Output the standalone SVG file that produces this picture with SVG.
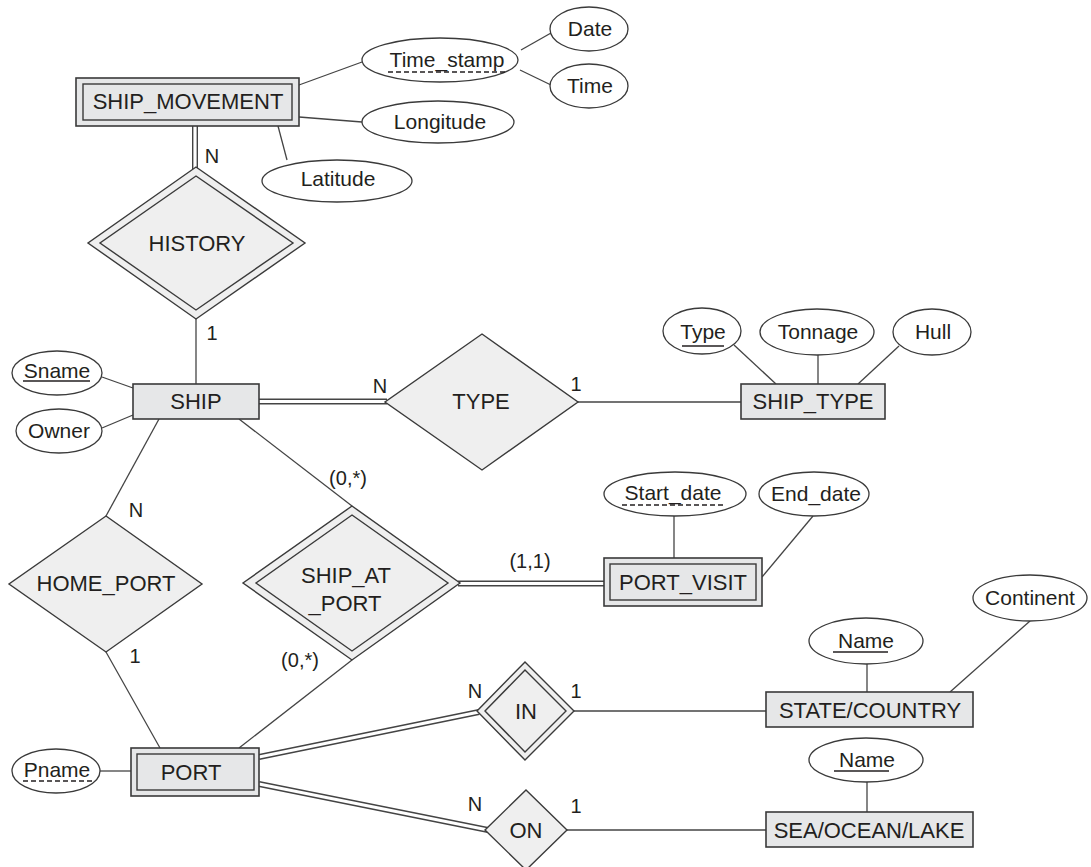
<svg xmlns="http://www.w3.org/2000/svg" width="1091" height="867" viewBox="0 0 1091 867">
<style>
text{font-family:"Liberation Sans",Arial,sans-serif;fill:#231f20;text-anchor:middle}
.nl{font-size:22px}
.al{font-size:21px}
.cl{font-size:20px}
.ent{fill:#e6e7e8;stroke:#3a3a3a;stroke-width:1.6}
.inner{fill:#e6e7e8;stroke:#3a3a3a;stroke-width:1.4}
.rel{fill:#efefef;stroke:#3a3a3a;stroke-width:1.4}
.att{fill:#fff;stroke:#3a3a3a;stroke-width:1.3}
.ln{stroke:#444;stroke-width:1.3;fill:none}
.dbl{stroke:#444;stroke-width:6;fill:none}
.dblw{stroke:#fff;stroke-width:3.2;fill:none}
.ul{stroke:#231f20;stroke-width:1.3}
.dul{stroke:#231f20;stroke-width:1.3;stroke-dasharray:5 3}
</style>
<rect width="1091" height="867" fill="#fff"/>
<g id="connectors">
<line class="ln" x1="299" y1="85" x2="362" y2="62"/>
<line class="ln" x1="521" y1="50" x2="551" y2="33"/>
<line class="ln" x1="520" y1="70" x2="551" y2="85"/>
<line class="ln" x1="299" y1="117" x2="362" y2="122"/>
<line class="ln" x1="278" y1="126" x2="287" y2="160"/>
<line class="dbl" x1="195" y1="126" x2="195" y2="170"/>
<line class="dblw" x1="195" y1="126" x2="195" y2="170"/>
<line class="ln" x1="196" y1="319" x2="196" y2="384"/>
<line class="ln" x1="102" y1="377" x2="133" y2="388"/>
<line class="ln" x1="102" y1="428" x2="133" y2="415"/>
<line class="dbl" x1="259" y1="401.5" x2="387" y2="401.5"/>
<line class="dblw" x1="259" y1="401.5" x2="387" y2="401.5"/>
<line class="ln" x1="578" y1="402" x2="741" y2="402"/>
<line class="ln" x1="734" y1="345" x2="776" y2="384"/>
<line class="ln" x1="818" y1="355" x2="818" y2="384"/>
<line class="ln" x1="899" y1="346" x2="858" y2="384"/>
<line class="ln" x1="159" y1="419" x2="106" y2="516"/>
<line class="ln" x1="239" y1="419" x2="352" y2="506"/>
<line class="ln" x1="106" y1="652" x2="160" y2="748"/>
<line class="ln" x1="352" y1="660" x2="239" y2="748"/>
<line class="dbl" x1="458" y1="583.5" x2="604" y2="583.5"/>
<line class="dblw" x1="458" y1="583.5" x2="604" y2="583.5"/>
<line class="ln" x1="674" y1="516" x2="674" y2="558"/>
<line class="ln" x1="813" y1="516" x2="762" y2="577"/>
<line class="dbl" x1="259" y1="757" x2="479" y2="712"/>
<line class="dblw" x1="259" y1="757" x2="479" y2="712"/>
<line class="ln" x1="574" y1="711" x2="766" y2="711"/>
<line class="ln" x1="867" y1="664" x2="867" y2="692"/>
<line class="ln" x1="1030" y1="621" x2="950" y2="692"/>
<line class="dbl" x1="259" y1="784" x2="488" y2="830"/>
<line class="dblw" x1="259" y1="784" x2="488" y2="830"/>
<line class="ln" x1="567" y1="830" x2="766" y2="830"/>
<line class="ln" x1="867" y1="782" x2="867" y2="812"/>
<line class="ln" x1="100" y1="771" x2="131" y2="771"/>
</g>
<g id="labels">
<text class="cl" x="212" y="163">N</text>
<text class="cl" x="212" y="340">1</text>
<text class="cl" x="380" y="393">N</text>
<text class="cl" x="576" y="391">1</text>
<text class="cl" x="136" y="517">N</text>
<text class="cl" x="348" y="485">(0,*)</text>
<text class="cl" x="135" y="663">1</text>
<text class="cl" x="300" y="667">(0,*)</text>
<text class="cl" x="530" y="568">(1,1)</text>
<text class="cl" x="475" y="698">N</text>
<text class="cl" x="576" y="698">1</text>
<text class="cl" x="475" y="811">N</text>
<text class="cl" x="576" y="813">1</text>
</g>
<g id="ship_movement">
<rect class="ent" x="76" y="78" width="223" height="48"/>
<rect class="inner" x="83" y="84" width="209" height="36"/>
<text class="nl" x="188" y="109">SHIP_MOVEMENT</text>
</g>
<g id="time_stamp">
<ellipse class="att" cx="440" cy="60" rx="78" ry="22"/>
<text class="al" x="447" y="67">Time_stamp</text>
<line class="dul" x1="388" y1="72" x2="505" y2="72"/>
</g>
<g id="date">
<ellipse class="att" cx="589" cy="29" rx="39" ry="22"/>
<text class="al" x="590" y="36">Date</text>
</g>
<g id="time">
<ellipse class="att" cx="589" cy="86" rx="39" ry="22"/>
<text class="al" x="590" y="93">Time</text>
</g>
<g id="longitude">
<ellipse class="att" cx="438" cy="122" rx="76" ry="21"/>
<text class="al" x="440" y="129">Longitude</text>
</g>
<g id="latitude">
<ellipse class="att" cx="337" cy="181" rx="75" ry="21"/>
<text class="al" x="338" y="186">Latitude</text>
</g>
<g id="history">
<polygon class="rel" points="196,167 305,243 196,319 88,243"/>
<polygon class="rel" points="196,176 293,243 196,310 100,243"/>
<text class="nl" x="197" y="251">HISTORY</text>
</g>
<g id="ship">
<rect class="ent" x="133" y="384" width="126" height="35"/>
<text class="nl" x="196" y="409">SHIP</text>
</g>
<g id="sname">
<ellipse class="att" cx="57" cy="373" rx="45" ry="22"/>
<text class="al" x="57" y="378">Sname</text>
<line class="ul" x1="23" y1="381" x2="90" y2="381"/>
</g>
<g id="owner">
<ellipse class="att" cx="59" cy="431" rx="43" ry="22"/>
<text class="al" x="59" y="438">Owner</text>
</g>
<g id="type_rel">
<polygon class="rel" points="482,334 578,402 482,470 385,402"/>
<text class="nl" x="481" y="409">TYPE</text>
</g>
<g id="ship_type">
<rect class="ent" x="741" y="384" width="144" height="35"/>
<text class="nl" x="813" y="409">SHIP_TYPE</text>
</g>
<g id="type_attr">
<ellipse class="att" cx="702" cy="331" rx="39" ry="23"/>
<text class="al" x="703" y="339">Type</text>
<line class="ul" x1="682" y1="346" x2="724" y2="346"/>
</g>
<g id="tonnage">
<ellipse class="att" cx="817" cy="332" rx="57" ry="23"/>
<text class="al" x="818" y="339">Tonnage</text>
</g>
<g id="hull">
<ellipse class="att" cx="932" cy="332" rx="39" ry="23"/>
<text class="al" x="933" y="339">Hull</text>
</g>
<g id="home_port">
<polygon class="rel" points="106,516 202,584 106,652 9,584"/>
<text class="nl" x="106" y="591">HOME_PORT</text>
</g>
<g id="ship_at_port">
<polygon class="rel" points="352,506 460,583 352,660 243,583"/>
<polygon class="rel" points="352,515 448,583 352,651 256,583"/>
<text class="nl" x="346" y="583">SHIP_AT</text>
<text class="nl" x="345" y="611">_PORT</text>
</g>
<g id="port_visit">
<rect class="ent" x="604" y="558" width="158" height="48"/>
<rect class="inner" x="610" y="564" width="146" height="36"/>
<text class="nl" x="683" y="590">PORT_VISIT</text>
</g>
<g id="start_date">
<ellipse class="att" cx="675" cy="494" rx="71" ry="22"/>
<text class="al" x="673" y="500">Start_date</text>
<line class="dul" x1="622" y1="505" x2="723" y2="505"/>
</g>
<g id="end_date">
<ellipse class="att" cx="814" cy="494" rx="55" ry="22"/>
<text class="al" x="816" y="501">End_date</text>
</g>
<g id="port">
<rect class="ent" x="131" y="748" width="128" height="48"/>
<rect class="inner" x="137" y="754" width="117" height="36"/>
<text class="nl" x="191" y="780">PORT</text>
</g>
<g id="pname">
<ellipse class="att" cx="56" cy="771" rx="44" ry="22"/>
<text class="al" x="57" y="777">Pname</text>
<line class="dul" x1="23" y1="781" x2="95" y2="781"/>
</g>
<g id="in_rel">
<polygon class="rel" points="525,662 574,711 525,760 477,711"/>
<polygon class="rel" points="525,670 566,711 525,752 485,711"/>
<text class="nl" x="526" y="719">IN</text>
</g>
<g id="state_country">
<rect class="ent" x="766" y="692" width="207" height="35"/>
<text class="nl" x="870" y="718">STATE/COUNTRY</text>
</g>
<g id="name_state">
<ellipse class="att" cx="866" cy="641" rx="57" ry="23"/>
<text class="al" x="866" y="648">Name</text>
<line class="ul" x1="833" y1="652" x2="888" y2="652"/>
</g>
<g id="continent">
<ellipse class="att" cx="1030" cy="598" rx="57" ry="23"/>
<text class="al" x="1030" y="605">Continent</text>
</g>
<g id="on_rel">
<polygon class="rel" points="526,790 567,830 526,870 485,830"/>
<text class="nl" x="526" y="838">ON</text>
</g>
<g id="sea_ocean_lake">
<rect class="ent" x="766" y="812" width="207" height="35"/>
<text class="nl" x="869" y="838">SEA/OCEAN/LAKE</text>
</g>
<g id="name_sea">
<ellipse class="att" cx="866" cy="760" rx="57" ry="22"/>
<text class="al" x="867" y="767">Name</text>
<line class="ul" x1="834" y1="771" x2="889" y2="771"/>
</g>
</svg>
